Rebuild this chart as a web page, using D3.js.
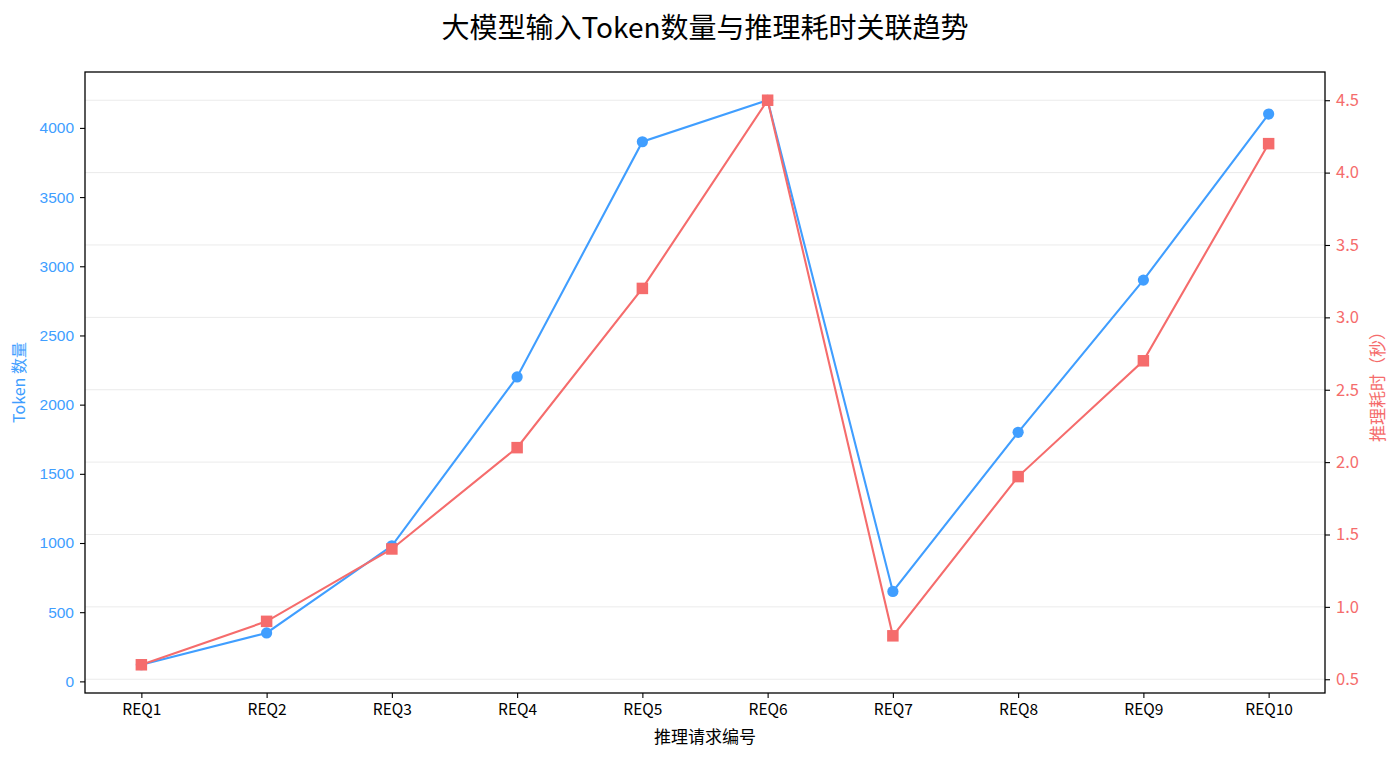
<!DOCTYPE html>
<html>
<head>
<meta charset="utf-8">
<script src="https://cdn.jsdelivr.net/npm/d3@7"></script>
<style>
  body { margin: 0; background: #fff; }
  svg { display: block; }
</style>
</head>
<body>
<div id="chart"></div>
<script>
const categories = ["REQ1", "REQ2", "REQ3", "REQ4", "REQ5", "REQ6", "REQ7", "REQ8", "REQ9", "REQ10"];
const tokenCounts = [120, 350, 980, 2200, 3900, 4200, 650, 1800, 2900, 4100];
const latencySec = [0.6, 0.9, 1.4, 2.1, 3.2, 4.5, 0.8, 1.9, 2.7, 4.2];
const tokenTicks = [0, 500, 1000, 1500, 2000, 2500, 3000, 3500, 4000];
const latencyTicks = [0.5, 1.0, 1.5, 2.0, 2.5, 3.0, 3.5, 4.0, 4.5];

const width = 1400, height = 758;
const margin = { top: 72, right: 75, bottom: 65, left: 85 };
const blue = "#409EFF", red = "#F56C6C";
const cjk = "'Noto Sans CJK SC', 'DejaVu Sans', sans-serif";

const svg = d3.select("#chart").append("svg")
  .attr("width", width)
  .attr("height", height);

const pw = width - margin.left - margin.right;
const ph = height - margin.top - margin.bottom;

// matplotlib-style 5% padding
function padded(vals) {
  const lo = d3.min(vals), hi = d3.max(vals), p = (hi - lo) * 0.05;
  return [lo - p, hi + p];
}

const x = d3.scaleLinear()
  .domain([-0.45, categories.length - 1 + 0.45])
  .range([0, pw]);
const yL = d3.scaleLinear().domain(padded(tokenCounts)).range([ph, 0]);
const yR = d3.scaleLinear().domain(padded(latencySec)).range([ph, 0]);

const g = svg.append("g")
  .attr("transform", "translate(" + margin.left + "," + margin.top + ")");

// grid from right axis
g.append("g")
  .selectAll("line")
  .data(latencyTicks)
  .join("line")
  .attr("x1", 0).attr("x2", pw)
  .attr("y1", d => yR(d)).attr("y2", d => yR(d))
  .attr("stroke", "#ebebeb")
  .attr("stroke-width", 1);

// x axis
const xAxis = g.append("g")
  .attr("transform", "translate(0," + ph + ")")
  .call(d3.axisBottom(x)
    .tickValues(d3.range(categories.length))
    .tickFormat(i => categories[i])
    .tickSize(5).tickPadding(6));
xAxis.selectAll("text").attr("font-family", cjk).attr("font-size", 15.5).attr("fill", "#000");

// left axis
const leftAxis = g.append("g")
  .call(d3.axisLeft(yL).tickValues(tokenTicks).tickFormat(d3.format("d")).tickSize(5).tickPadding(6));
leftAxis.selectAll("text")
  .attr("font-family", "'Liberation Sans', Arial, sans-serif")
  .attr("font-size", 15.5)
  .attr("fill", blue);

// right axis
const rightAxis = g.append("g")
  .attr("transform", "translate(" + pw + ",0)")
  .call(d3.axisRight(yR).tickValues(latencyTicks).tickFormat(d3.format(".1f")).tickSize(5).tickPadding(6));
rightAxis.selectAll("text")
  .attr("font-family", cjk)
  .attr("font-size", 16.5)
  .attr("fill", red);

[xAxis, leftAxis, rightAxis].forEach(a => {
  a.selectAll(".domain").remove();
  a.selectAll(".tick line").attr("stroke", "#000").attr("stroke-width", 1.1);
});

// frame
g.append("rect")
  .attr("width", pw).attr("height", ph)
  .attr("fill", "none")
  .attr("stroke", "#000")
  .attr("stroke-width", 1.3);

// token series
g.append("path")
  .datum(tokenCounts)
  .attr("fill", "none")
  .attr("stroke", blue)
  .attr("stroke-width", 2.1)
  .attr("d", d3.line().x((d, i) => x(i)).y(d => yL(d)));
g.append("g")
  .selectAll("circle")
  .data(tokenCounts)
  .join("circle")
  .attr("cx", (d, i) => x(i))
  .attr("cy", d => yL(d))
  .attr("r", 5.6)
  .attr("fill", blue);

// latency series
g.append("path")
  .datum(latencySec)
  .attr("fill", "none")
  .attr("stroke", red)
  .attr("stroke-width", 2.1)
  .attr("d", d3.line().x((d, i) => x(i)).y(d => yR(d)));
const sq = 11.5;
g.append("g")
  .selectAll("rect")
  .data(latencySec)
  .join("rect")
  .attr("x", (d, i) => x(i) - sq / 2)
  .attr("y", d => yR(d) - sq / 2)
  .attr("width", sq).attr("height", sq)
  .attr("fill", red);

// titles
svg.append("text")
  .attr("x", margin.left + pw / 2)
  .attr("y", 38)
  .attr("text-anchor", "middle")
  .attr("font-family", cjk)
  .attr("font-size", 28)
  .attr("fill", "#000")
  .text("大模型输入Token数量与推理耗时关联趋势");

svg.append("text")
  .attr("x", margin.left + pw / 2)
  .attr("y", 743)
  .attr("text-anchor", "middle")
  .attr("font-family", cjk)
  .attr("font-size", 17)
  .attr("fill", "#000")
  .text("推理请求编号");

svg.append("text")
  .attr("transform", "translate(25," + (margin.top + ph / 2) + ") rotate(-90)")
  .attr("text-anchor", "middle")
  .attr("font-family", cjk)
  .attr("font-size", 16)
  .attr("fill", blue)
  .text("Token 数量");

svg.append("text")
  .attr("transform", "translate(1384," + (margin.top + ph / 2) + ") rotate(-90)")
  .attr("text-anchor", "middle")
  .attr("font-family", cjk)
  .attr("font-size", 17)
  .attr("fill", red)
  .text("推理耗时（秒）");
</script>
</body>
</html>
